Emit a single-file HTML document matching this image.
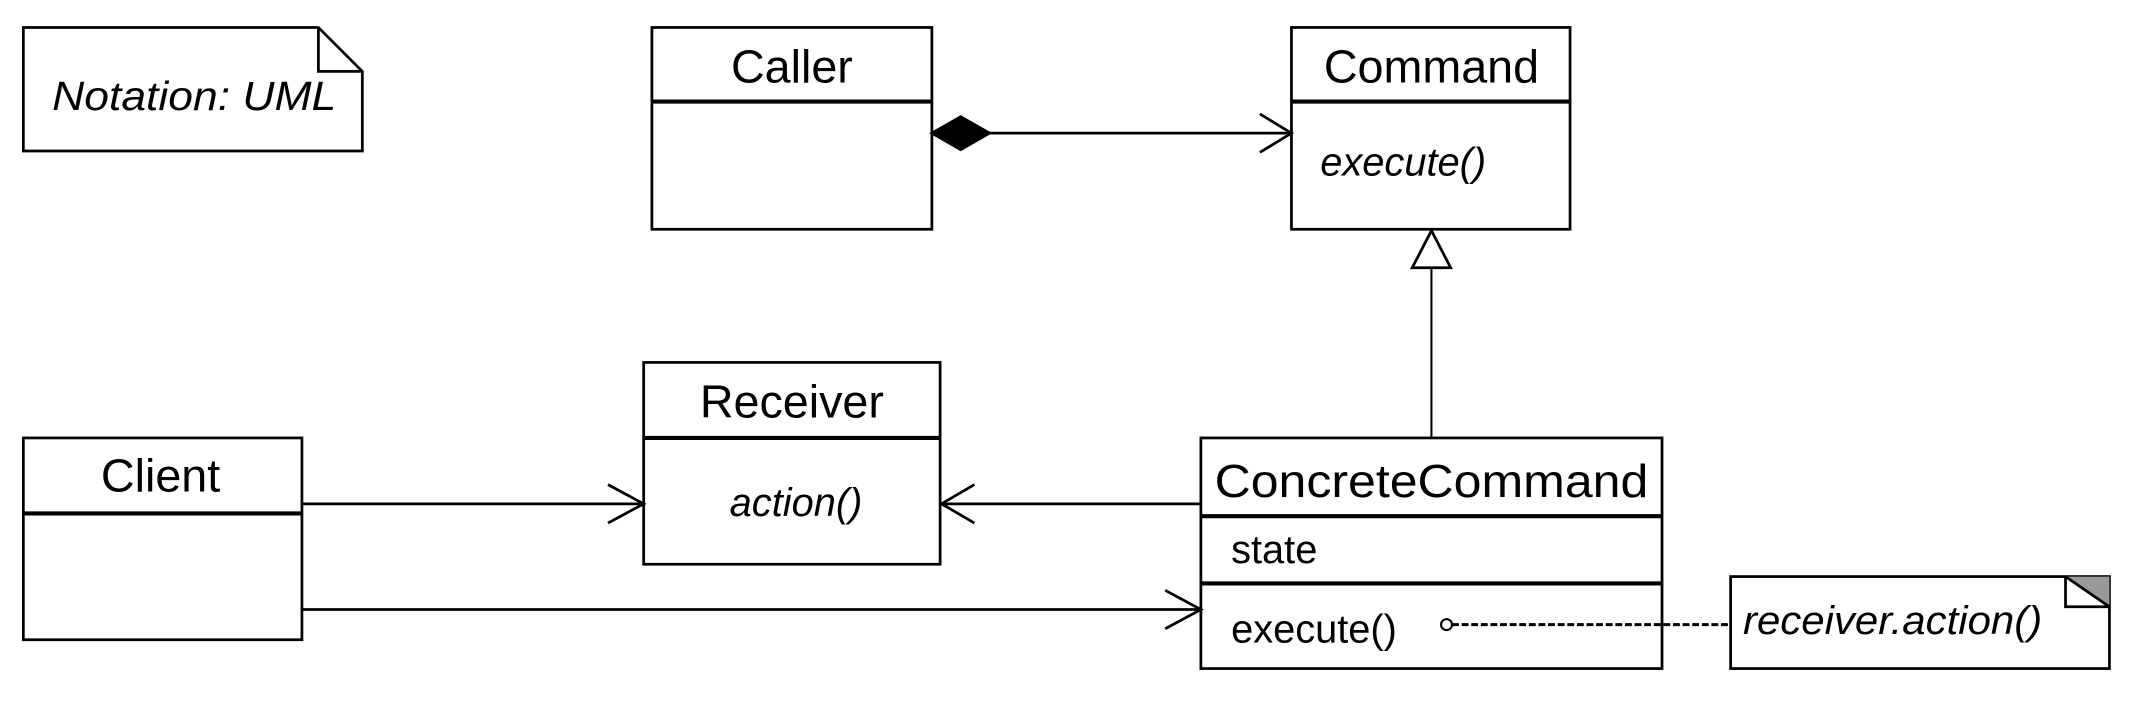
<!DOCTYPE html>
<html><head><meta charset="utf-8"><style>
html,body{margin:0;padding:0;background:#fff;}
svg{display:block}
text{font-family:"Liberation Sans",sans-serif;fill:#000}
</style></head><body>
<svg width="2141" height="707" viewBox="0 0 1560 515" preserveAspectRatio="none" xmlns="http://www.w3.org/2000/svg">
<g fill="none" stroke="#000" stroke-width="2">
<path d="M17,20 H232 L264,52 V110 H17 Z" fill="#fff"/>
<path d="M232,20 V52 H264"/>
<rect x="475" y="20" width="204" height="147" fill="#fff"/>
<line x1="475" y1="74" x2="679" y2="74" stroke-width="3"/>
<rect x="941" y="20" width="203" height="147" fill="#fff"/>
<line x1="941" y1="74" x2="1144" y2="74" stroke-width="3"/>
<rect x="469" y="264" width="216" height="147" fill="#fff"/>
<line x1="469" y1="319" x2="685" y2="319" stroke-width="3"/>
<rect x="17" y="319" width="203" height="147" fill="#fff"/>
<line x1="17" y1="374" x2="220" y2="374" stroke-width="3"/>
<rect x="875" y="319" width="336" height="168" fill="#fff"/>
<line x1="875" y1="376" x2="1211" y2="376" stroke-width="3"/>
<line x1="875" y1="425" x2="1211" y2="425" stroke-width="3"/>
<rect x="1261" y="420" width="276" height="67" fill="#fff"/>
<path d="M1505,420 H1537 V442 Z" fill="#999" stroke="none"/>
<path d="M1505,420 V442 H1537 M1505,420 L1537,442" stroke-width="2"/>
<line x1="720" y1="97" x2="941" y2="97"/>
<path d="M679,97 L700,85 L721,97 L700,109 Z" fill="#000"/>
<path d="M918,83 L941,97 L918,111"/>
<line x1="1043" y1="195" x2="1043" y2="319" stroke-width="1.5"/>
<path d="M1043,168 L1057,195 H1029 Z" fill="#fff"/>
<line x1="220" y1="367" x2="469" y2="367"/>
<path d="M443,353 L469,367 L443,381"/>
<line x1="685" y1="367" x2="875" y2="367"/>
<path d="M710,353 L686,367 L710,381"/>
<line x1="220" y1="444" x2="875" y2="444"/>
<path d="M849,430 L875,444 L849,458"/>
<line x1="1058" y1="455" x2="1260" y2="455" stroke-dasharray="5,2" stroke-width="2.2"/>
<circle cx="1054" cy="455" r="4" fill="#fff" stroke-width="1.5"/>
</g>
<g font-size="34">
<text x="38" y="80" font-style="italic" font-size="30" textLength="207" lengthAdjust="spacingAndGlyphs">Notation: UML</text>
<text x="577" y="60" text-anchor="middle">Caller</text>
<text x="1043" y="60" text-anchor="middle">Command</text>
<text x="962" y="128" font-style="italic" font-size="29">execute()</text>
<text x="577" y="304" text-anchor="middle">Receiver</text>
<text x="580" y="376" text-anchor="middle" font-style="italic" font-size="29">action()</text>
<text x="117" y="358" text-anchor="middle">Client</text>
<text x="885" y="362" textLength="316" lengthAdjust="spacingAndGlyphs">ConcreteCommand</text>
<text x="897" y="410" font-size="29">state</text>
<text x="897" y="468" font-size="29">execute()</text>
<text x="1270" y="462" font-style="italic" font-size="29" textLength="218" lengthAdjust="spacingAndGlyphs">receiver.action()</text>
</g>
</svg>
</body></html>
